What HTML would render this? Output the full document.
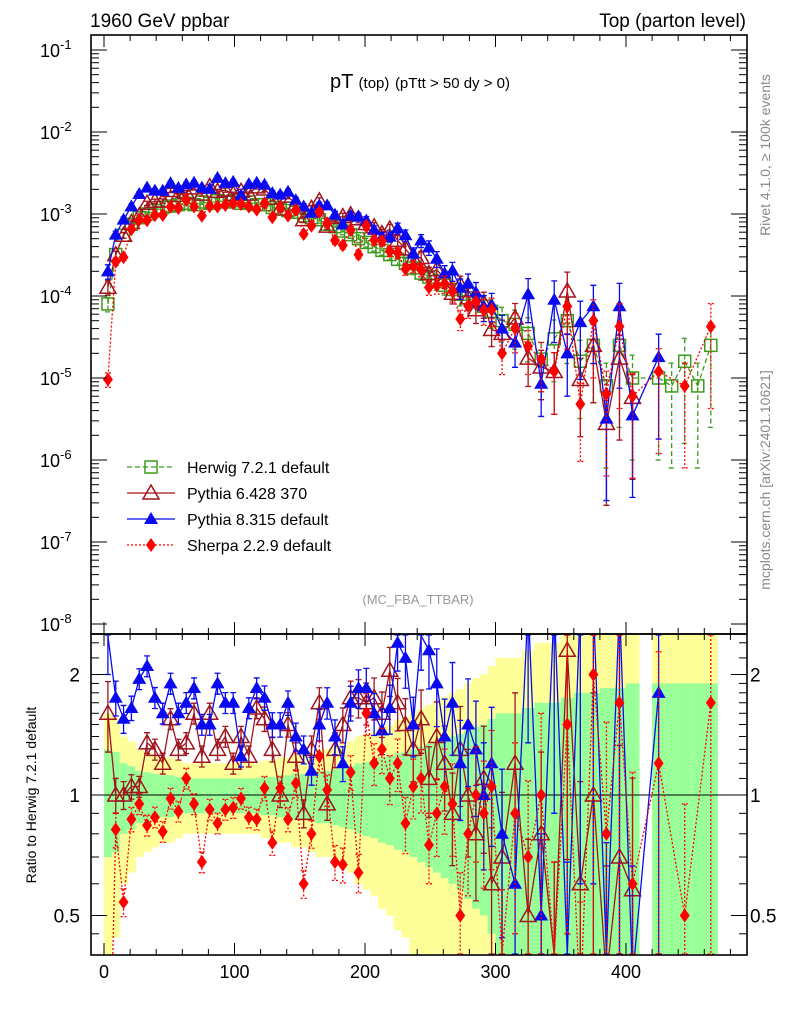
<!DOCTYPE html>
<html><head><meta charset="utf-8"><style>
html,body{margin:0;padding:0;background:#fff;width:786px;height:1024px;overflow:hidden;}
svg{display:block;font-family:"Liberation Sans",sans-serif;}
</style></head><body>
<svg id="c" width="786" height="1024" viewBox="0 0 786 1024" overflow="hidden">
<text x="90" y="27" font-size="19">1960 GeV ppbar</text>
<text x="746" y="27" font-size="19" text-anchor="end">Top (parton level)</text>
<text x="420" y="88" font-size="20" text-anchor="middle">pT <tspan font-size="15">(top)</tspan> <tspan font-size="15">(pTtt &gt; 50 dy &gt; 0)</tspan></text>
<text transform="translate(770,155) rotate(-90)" font-size="14" fill="#888" text-anchor="middle">Rivet 4.1.0, ≥ 100k events</text>
<text transform="translate(770,480) rotate(-90)" font-size="14" fill="#888" text-anchor="middle">mcplots.cern.ch [arXiv:2401.10621]</text>
<text x="418" y="604" font-size="13" fill="#999" text-anchor="middle">(MC_FBA_TTBAR)</text>
<text transform="translate(36,795) rotate(-90)" font-size="14" text-anchor="middle">Ratio to Herwig 7.2.1 default</text>
<g id="bands"></g>
<g id="main"></g>
<g id="ratio"></g>
<g id="axes"></g>
<g id="legend"></g>
</svg>
<script>
const binLo=[0,6,12,18,24,30,36,42,48,54,60,66,72,78,84,90,96,102,108,114,120,126,132,138,144,150,156,162,168,174,180,186,192,198,204,210,216,222,228,234,240,246,252,258,264,270,276,282,288,294,300,310,320,330,340,350,360,370,380,390,400,410,420,430,440,450,460,470];
const binHi=[6,12,18,24,30,36,42,48,54,60,66,72,78,84,90,96,102,108,114,120,126,132,138,144,150,156,162,168,174,180,186,192,198,204,210,216,222,228,234,240,246,252,258,264,270,276,282,288,294,300,310,320,330,340,350,360,370,380,390,400,410,420,430,440,450,460,470,480];
const herwig=[8e-5,3.2e-4,5.5e-4,7.5e-4,9e-4,1.0e-3,1.1e-3,1.2e-3,1.25e-3,1.3e-3,1.35e-3,1.3e-3,1.4e-3,1.35e-3,1.45e-3,1.4e-3,1.45e-3,1.35e-3,1.4e-3,1.3e-3,1.3e-3,1.2e-3,1.15e-3,1.1e-3,1.05e-3,9.5e-4,9e-4,8.5e-4,7.5e-4,7e-4,6.2e-4,5.6e-4,5e-4,4.5e-4,4e-4,3.6e-4,3.2e-4,2.8e-4,2.5e-4,2.2e-4,1.9e-4,1.7e-4,1.5e-4,1.35e-4,1.2e-4,1.05e-4,9.5e-5,8.5e-5,7.5e-5,6.5e-5,5e-5,4.5e-5,3.5e-5,1.7e-5,3e-5,5e-5,1.6e-5,2.5e-5,8e-6,2.5e-5,1e-5,null,1e-5,8e-6,1.6e-5,8e-6,2.5e-5,null];
const bandErr=[0.3,0.28,0.2,0.18,0.15,0.14,0.13,0.12,0.12,0.11,0.1,0.1,0.1,0.1,0.1,0.1,0.1,0.1,0.1,0.1,0.11,0.11,0.12,0.12,0.13,0.13,0.14,0.15,0.15,0.16,0.17,0.18,0.2,0.21,0.22,0.24,0.25,0.27,0.28,0.3,0.32,0.34,0.36,0.38,0.4,0.42,0.45,0.48,0.5,0.55,0.6,0.6,0.65,0.7,0.7,0.75,0.8,0.8,0.85,0.85,0.9,0.9,0.9,0.9,0.9,0.9,0.9,0.9];
const relErr=[0.2,0.1,0.08,0.07,0.06,0.06,0.06,0.06,0.06,0.06,0.06,0.06,0.06,0.06,0.06,0.06,0.06,0.06,0.06,0.06,0.07,0.07,0.07,0.07,0.08,0.08,0.08,0.09,0.09,0.1,0.1,0.1,0.11,0.12,0.12,0.13,0.14,0.15,0.16,0.17,0.18,0.2,0.22,0.24,0.26,0.28,0.3,0.32,0.35,0.38,0.45,0.5,0.55,0.6,0.7,0.7,0.8,0.8,0.9,0.9,0.9,0.9,0.9,0.9,0.9,0.9,0.9,0.9];
const ratioP8=[2.5,1.75,1.55,1.65,1.95,2.1,1.75,1.6,1.9,1.6,1.7,1.85,1.5,1.5,1.9,1.7,1.7,1.25,1.65,1.85,1.75,1.5,1.5,1.7,1.4,1.3,1.15,1.5,1.7,1.4,1.2,1.7,1.85,1.85,1.6,1.45,1.65,2.4,2.2,1.5,2.5,2.3,1.9,1.4,1.7,1.2,1.5,1.3,1.0,1.2,0.8,0.6,3,0.5,3,0.4,3,3,0.4,3,0.35,null,1.8,null,null,null,null,null];
const ratioP6=[1.6,1.0,1.0,1.05,1.05,1.35,1.3,1.2,1.55,1.3,1.35,1.6,1.25,1.6,1.3,1.4,1.2,1.4,1.25,1.65,1.55,1.3,1.0,1.5,1.25,0.9,1.3,1.7,0.95,1.3,1.5,1.75,1.75,1.7,1.75,1.6,2.05,1.7,1.5,1.3,1.55,1.1,1.4,1.2,0.9,1.3,1.0,0.8,1.1,0.6,0.7,1.2,0.5,0.8,0.4,2.3,0.6,1.0,0.35,0.7,0.58,null,null,null,null,null,null,0.3];
const ratioSherpa=[0.12,0.82,0.54,0.87,0.95,0.84,0.88,0.81,0.98,0.91,1.1,0.95,0.68,0.92,0.85,0.92,0.93,0.98,0.88,0.87,1.04,0.76,1.04,0.87,1.07,0.6,0.8,1.25,1.03,0.68,0.67,1.14,0.64,1.6,1.2,1.3,1.1,1.2,0.85,1.05,1.1,0.75,0.9,1.05,0.95,0.5,0.8,1.0,0.9,1.05,0.4,0.9,0.7,1.0,0.4,1.5,0.3,2.0,0.8,1.7,0.6,0.35,1.2,null,0.5,null,1.7,null];
const xTicks=[0,100,200,300,400];
const yMainTicks=[-8,-7,-6,-5,-4,-3,-2,-1];
const yRatioTicks=[0.5,1,2];

const NS="http://www.w3.org/2000/svg";
const X=v=>104+1.305*v;
const YM=v=>214-82*(Math.log10(v)+3);
const YR=r=>795-120.5*Math.log2(r);
const cl=(v,a,b)=>Math.max(a,Math.min(b,v));
function el(t,a,p){const e=document.createElementNS(NS,t);for(const k in a)e.setAttribute(k,a[k]);p.appendChild(e);return e;}
const main=document.getElementById('main'),ratio=document.getElementById('ratio'),bands=document.getElementById('bands'),axes=document.getElementById('axes'),legend=document.getElementById('legend');

for(let i=0;i<binLo.length;i++){
  if(herwig[i]==null)continue;
  const e=bandErr[i];
  const yt2=cl(YR(1+2*e),635,954),yb2=cl(YR(Math.max(1-2*e,0.05)),635,954);
  const yt1=cl(YR(1+e),635,954),yb1=cl(YR(Math.max(1-e,0.05)),635,954);
  const y=el('rect',{x:X(binLo[i]),width:X(binHi[i])-X(binLo[i])+0.5,y:yt2,height:yb2-yt2,fill:'#ffff99'},bands);
  
  
  const g=el('rect',{x:X(binLo[i]),width:X(binHi[i])-X(binLo[i])+0.5,y:yt1,height:yb1-yt1,fill:'#99ff99'},bands);
  
  
}
el('line',{x1:91,x2:747,y1:YR(1),y2:YR(1),stroke:'#000','stroke-width':1},ratio);

const series=[
 {name:'herwig',ratio:herwig.map(v=>v==null?null:1),color:'#3d9a1c',dash:'5,3',marker:'sq'},
 {name:'pythia6',ratio:ratioP6,color:'#a0141e',dash:'',marker:'otri'},
 {name:'pythia8',ratio:ratioP8,color:'#0a0af0',dash:'',marker:'tri'},
 {name:'sherpa',ratio:ratioSherpa,color:'#ff0000',dash:'2,2',marker:'dia'}
];
function marker(s,x,y,p){
  let m;
  if(s.marker=='sq')m=el('rect',{x:x-6,y:y-6,width:12,height:12,fill:'none',stroke:s.color,'stroke-width':1.5},p);
  else if(s.marker=='otri')m=el('polygon',{points:`${x},${y-8} ${x-8},${y+6} ${x+8},${y+6}`,fill:'none',stroke:s.color,'stroke-width':1.5},p);
  else if(s.marker=='tri')m=el('polygon',{points:`${x},${y-7} ${x-7},${y+5} ${x+7},${y+5}`,fill:s.color},p);
  else m=el('polygon',{points:`${x},${y-7} ${x-5},${y} ${x},${y+7} ${x+5},${y}`,fill:s.color},p);
  
  
}
function clipLine(a,b,y0,y1){
  // clip segment a-b to y range
  let [x1,ya]=a,[x2,yb]=b;
  if((ya<y0&&yb<y0)||(ya>y1&&yb>y1))return null;
  const f=y=>x1+(x2-x1)*(y-ya)/(yb-ya);
  if(ya<y0){x1=f(y0);ya=y0;} else if(ya>y1){x1=f(y1);ya=y1;}
  const A=[x1,ya];
  x1=a[0];ya=a[1];
  if(yb<y0){x2=f(y0);yb=y0;} else if(yb>y1){x2=f(y1);yb=y1;}
  return [A,[x2,yb]];
}
function draw(s,p,yf,valf,y0,y1){
  const pts=[];
  for(let i=0;i<binLo.length;i++){
    const v=valf(i);if(v==null||!(v>0))continue;
    const x=X((binLo[i]+binHi[i])/2),y=yf(v);
    const e=relErr[i];
    const yt=cl(yf(v*(1+e)),y0,y1),yb=cl(yf(Math.max(v*(1-e),v*0.01)),y0,y1);
    if(yb>yt){
      const b=el('path',{d:`M${x},${yt}V${yb}M${x-3},${yt}H${x+3}M${x-3},${yb}H${x+3}`,stroke:s.color,'stroke-width':1.3,'stroke-dasharray':s.dash,fill:'none'},p);
      
      
    }
    pts.push([x,y]);
  }
  let d='';
  for(let k=1;k<pts.length;k++){const c=clipLine(pts[k-1],pts[k],y0,y1);if(c)d+=`M${c[0][0]},${c[0][1]}L${c[1][0]},${c[1][1]}`;}
  const l=el('path',{d:d,fill:'none',stroke:s.color,'stroke-width':1.3,'stroke-dasharray':s.dash},p);
  
  
  pts.forEach(q=>{if(q[1]>y0+3&&q[1]<y1-3)marker(s,q[0],q[1],p);});
}
series.forEach(s=>{
  draw(s,main,YM,i=>(herwig[i]==null||s.ratio[i]==null)?null:herwig[i]*s.ratio[i],36,633);
  if(s.name!='herwig')draw(s,ratio,YR,i=>herwig[i]==null?null:s.ratio[i],635,954);
});

for(const [y0,y1] of [[35,634],[634,955]]){
  const r=el('rect',{x:91,y:y0,width:656,height:y1-y0,fill:'none',stroke:'#000','stroke-width':1.6},axes);
  
  
}
xTicks.forEach(v=>{
  const t=el('text',{x:X(v),y:978,'font-size':18,'text-anchor':'middle'},axes);t.textContent=v;
  
  
});
for(let v=0;v<=490;v+=20){
  const h=v%100==0?12:6;
  for(const [yb,yt] of [[634,35],[955,634]]){
    el('line',{x1:X(v),x2:X(v),y1:yb,y2:yb-h,stroke:'#000'},axes);
    el('line',{x1:X(v),x2:X(v),y1:yt,y2:yt+h,stroke:'#000'},axes);
  }
}
yMainTicks.forEach(p=>{
  const y=YM(Math.pow(10,p));
  el('line',{x1:91,x2:107,y1:y,y2:y,stroke:'#000'},axes);
  el('line',{x1:747,x2:731,y1:y,y2:y,stroke:'#000'},axes);
  for(let k=2;k<10;k++){const yy=YM(k*Math.pow(10,p));if(yy<35)continue;
    el('line',{x1:91,x2:99,y1:yy,y2:yy,stroke:'#000'},axes);el('line',{x1:747,x2:739,y1:yy,y2:yy,stroke:'#000'},axes);}
  const t=el('text',{x:40,y:y+7,'font-size':18},axes);
  
  
  t.innerHTML='10<tspan dy="-8" font-size="13">'+p+'</tspan>';
});
yRatioTicks.forEach(r=>{
  const y=YR(r);
  el('line',{x1:91,x2:107,y1:y,y2:y,stroke:'#000'},axes);
  el('line',{x1:747,x2:731,y1:y,y2:y,stroke:'#000'},axes);
  const t=el('text',{x:80,y:y+7,'font-size':19,'text-anchor':'end'},axes);t.textContent=r;
  
  
  const t2=el('text',{x:750,y:y+7,'font-size':19},axes);t2.textContent=r;
  
  
});
[0.45,0.6,0.7,0.8,0.9,1.1,1.2,1.3,1.4,1.5,1.6,1.7,1.8,1.9,2.2,2.4].forEach(r=>{const y=YR(r);
  el('line',{x1:91,x2:99,y1:y,y2:y,stroke:'#000'},axes);el('line',{x1:747,x2:739,y1:y,y2:y,stroke:'#000'},axes);});

const labels=['Herwig 7.2.1 default','Pythia 6.428 370','Pythia 8.315 default','Sherpa 2.2.9 default'];
series.forEach((s,i)=>{
  const y=467+26*i;
  const g=el('g',{},legend);
  
  
  el('line',{x1:127,x2:175,y1:y,y2:y,stroke:s.color,'stroke-width':1.3,'stroke-dasharray':s.dash},g);
  marker(s,151,y,g);
  const t=el('text',{x:187,y:y+6,'font-size':16},g);t.textContent=labels[i];
});
</script>
</body></html>
